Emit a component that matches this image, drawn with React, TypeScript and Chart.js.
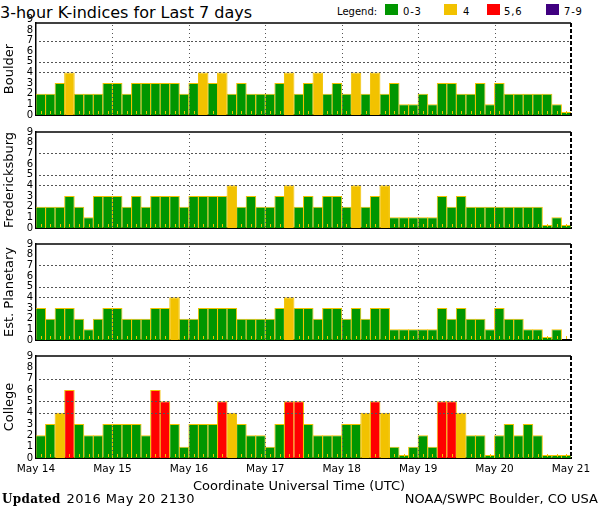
import React, { useEffect, useRef } from "react";
import { Chart, registerables } from "chart.js";

Chart.register(...registerables);

// ---------- data ----------
const dayLabels = ["May 14", "May 15", "May 16", "May 17", "May 18", "May 19", "May 20", "May 21"];
const yTickValues = [0, 1, 2, 3, 4, 5, 6, 7, 8, 9];
const dottedLevels = [4, 5, 7];

const boulder = [
  2, 2, 3, 4, 2, 2, 2, 3,
  3, 2, 3, 3, 3, 3, 3, 2,
  3, 4, 3, 4, 2, 3, 2, 2,
  2, 3, 4, 2, 3, 4, 2, 3,
  2, 4, 2, 4, 2, 3, 1, 1,
  2, 1, 3, 3, 2, 2, 3, 1,
  3, 2, 2, 2, 2, 2, 1, 0,
];
const fredericksburg = [
  2, 2, 2, 3, 2, 1, 3, 3,
  3, 2, 3, 2, 3, 3, 3, 2,
  3, 3, 3, 3, 4, 2, 3, 2,
  2, 3, 4, 2, 3, 2, 3, 3,
  2, 4, 2, 3, 4, 1, 1, 1,
  1, 1, 3, 2, 3, 2, 2, 2,
  2, 2, 2, 2, 2, 0, 1, 0,
];
const estPlanetary: (number | null)[] = [
  3, 2, 3, 3, 2, 1, 2, 3,
  3, 2, 2, 2, 3, 3, 4, 2,
  2, 3, 3, 3, 3, 2, 2, 2,
  2, 3, 4, 3, 3, 2, 3, 3,
  2, 3, 2, 3, 3, 1, 1, 1,
  1, 1, 3, 2, 3, 2, 2, 1,
  3, 2, 2, 1, 1, 0, 1, null,
];
const college = [
  2, 3, 4, 6, 3, 2, 2, 3,
  3, 3, 3, 2, 6, 5, 3, 1,
  3, 3, 3, 5, 4, 3, 2, 2,
  1, 3, 5, 5, 3, 2, 2, 2,
  3, 3, 4, 5, 4, 1, 0, 1,
  2, 1, 5, 5, 4, 2, 2, 0,
  2, 3, 2, 3, 2, 0, 0, 0,
];

const legendLabels = ["0-3", "4", "5,6", "7-9"];

// ---------- styles ----------
const GREEN = "#009600";
const YELLOW = "#F2C200";
const RED = "#FF0000";
const PURPLE = "#400080";
const legendColors = [GREEN, YELLOW, RED, PURPLE];
const GRID = "#555555";
const FONT = "DejaVu Sans";

function colorFor(v: number | null): string {
  if (v === null) return GREEN;
  if (v <= 3) return GREEN;
  if (v === 4) return YELLOW;
  if (v <= 6) return RED;
  return PURPLE;
}

// chart frame: top solid line, right dashed line
const framePlugin = {
  id: "frame",
  afterDraw(chart: any) {
    const { ctx, chartArea } = chart;
    const { left, right, top, bottom } = chartArea;
    ctx.save();
    ctx.strokeStyle = "#000";
    ctx.lineWidth = 1.5;
    ctx.beginPath();
    ctx.moveTo(left, top);
    ctx.lineTo(right, top);
    ctx.stroke();
    ctx.setLineDash([4, 2]);
    ctx.lineWidth = 2;
    ctx.beginPath();
    ctx.moveTo(right, top);
    ctx.lineTo(right, bottom);
    ctx.stroke();
    ctx.restore();
  },
};

// dotted guide lines (day boundaries and levels 4, 5, 7), positioned by the scales
const guidePlugin = {
  id: "guides",
  afterDatasetsDraw(chart: any) {
    const { ctx, chartArea } = chart;
    const xs = chart.scales.x;
    const ys = chart.scales.y;
    const L = Math.round(chartArea.left);
    const R = Math.round(chartArea.right);
    const T = Math.round(chartArea.top);
    const B = Math.round(chartArea.bottom);
    ctx.save();
    ctx.fillStyle = GRID;
    for (let d = 1; d < dayLabels.length - 1; d++) {
      const px = Math.round(xs.getPixelForValue(d * 8));
      for (let y = T + 2; y < B - 1; y += 4) ctx.fillRect(px, y, 1, 1);
    }
    for (let k = 0; k < dottedLevels.length; k++) {
      const py = Math.round(ys.getPixelForValue(dottedLevels[k]));
      for (let x = L + 3; x < R - 2; x += 4) ctx.fillRect(x, py, 2, 1);
    }
    ctx.restore();
  },
};

const barTickPlugin = {
  id: "barTicks",
  afterDatasetsDraw(chart: any) {
    const { ctx, chartArea } = chart;
    const xs = chart.scales.x;
    const n = chart.data.datasets[0].data.length;
    ctx.save();
    ctx.strokeStyle = YELLOW;
    ctx.lineWidth = 1;
    ctx.beginPath();
    for (let i = 0; i < n; i++) {
      const px = Math.round(xs.getPixelForValue(i + 0.5)) + 0.5;
      ctx.moveTo(px, chartArea.bottom - 1);
      ctx.lineTo(px, chartArea.bottom - 4);
    }
    ctx.stroke();
    ctx.restore();
  },
};

type PanelProps = {
  name: string;
  values: (number | null)[];
  plotTop: number;
  plotH: number;
  yMax: number;
  xAxisH: number;
  showX: boolean;
};

function Panel({ name, values, plotTop, plotH, yMax, xAxisH, showX }: PanelProps) {
  const ref = useRef<HTMLCanvasElement>(null);
  const padTop = 10;
  const h = padTop + plotH + xAxisH;

  useEffect(() => {
    if (!ref.current) return;
    const chart = new Chart(ref.current, {
      type: "bar",
      data: {
        datasets: [
          {
            data: values.map((v, i) => ({ x: i + 0.5, y: v })) as any,
            backgroundColor: values.map(colorFor),
            borderColor: YELLOW,
            borderWidth: { top: 1, left: 1, right: 1, bottom: 0 } as any,
            barPercentage: 1.1,
            categoryPercentage: 1,
            minBarLength: 3,
          },
        ],
      },
      options: {
        responsive: false,
        maintainAspectRatio: false,
        animation: false,
        events: [],
        layout: { padding: { top: padTop, right: 29, left: 0, bottom: 0 } },
        plugins: {
          legend: { display: false },
          tooltip: { enabled: false },
          title: { display: false },
        },
        scales: {
          x: {
            type: "linear",
            min: 0,
            max: 56,
            offset: false,
            afterBuildTicks: (axis: any) => {
              axis.ticks = dayLabels.map((_, i) => ({ value: i * 8 }));
            },
            afterFit: (axis: any) => {
              axis.height = xAxisH;
            },
            ticks: {
              display: showX,
              autoSkip: false,
              maxRotation: 0,
              padding: 5,
              color: "#000",
              font: { family: FONT, size: 10.5 },
              callback: (v: any) => dayLabels[Math.round(Number(v) / 8)],
            },
            grid: { display: false, drawTicks: false },
            border: { display: true, color: "#000", width: 2 },
          },
          y: {
            min: 0,
            max: yMax,
            afterBuildTicks: (axis: any) => {
              axis.ticks = yTickValues.map((v) => ({ value: v }));
            },
            afterFit: (axis: any) => {
              axis.width = 36;
            },
            ticks: {
              autoSkip: false,
              padding: 3,
              color: "#000",
              font: { family: FONT, size: 10 },
            },
            grid: { display: false, drawTicks: false },
            border: { display: true, color: "#000", width: 1.5 },
            title: {
              display: true,
              text: name,
              color: "#000",
              font: { family: FONT, size: 13 },
              padding: { top: 2, bottom: 0 },
            },
          },
        },
      } as any,
      plugins: [guidePlugin, framePlugin, barTickPlugin],
    });
    return () => chart.destroy();
  }, []);

  return (
    <canvas
      ref={ref}
      width={600}
      height={h}
      style={{ position: "absolute", left: 0, top: plotTop - padTop, width: 600, height: h }}
    />
  );
}

const textBase: React.CSSProperties = {
  position: "absolute",
  whiteSpace: "nowrap",
  color: "#000",
  fontFamily: FONT,
};

export default function App() {
  const legendTextX = [403, 463, 504, 564];
  const legendSwatchX = [385, 444, 486.5, 546];
  return (
    <div
      style={{
        position: "absolute",
        left: 0,
        top: 0,
        width: 600,
        height: 510,
        background: "#fff",
        overflow: "hidden",
      }}
    >
      <div style={{ ...textBase, left: 0, top: 4.5, fontSize: 16, lineHeight: "16px" }}>
        3-hour K-indices for Last 7 days
      </div>
      <div style={{ ...textBase, left: 337, top: 6.5, fontSize: 10, lineHeight: "10px" }}>Legend:</div>
      {legendLabels.map((lab, i) => (
        <React.Fragment key={lab}>
          <div
            style={{
              position: "absolute",
              left: legendSwatchX[i],
              top: 4,
              width: 13,
              height: 11,
              background: legendColors[i],
            }}
          />
          <div
            style={{
              ...textBase,
              left: legendTextX[i],
              top: 6.5,
              fontSize: 10,
              lineHeight: "10px",
              letterSpacing: "0.8px",
            }}
          >
            {lab}
          </div>
        </React.Fragment>
      ))}

      <Panel name="Boulder" values={boulder} plotTop={23} plotH={98} yMax={8.65} xAxisH={3} showX={false} />
      <Panel name="Fredericksburg" values={fredericksburg} plotTop={132} plotH={102} yMax={9} xAxisH={3} showX={false} />
      <Panel name="Est. Planetary" values={estPlanetary} plotTop={244} plotH={102} yMax={9} xAxisH={3} showX={false} />
      <Panel name="College" values={college} plotTop={356} plotH={102} yMax={9} xAxisH={20} showX={true} />

      <div style={{ ...textBase, left: 193, top: 479, fontSize: 13, lineHeight: "13px" }}>
        Coordinate Universal Time (UTC)
      </div>
      <div
        style={{
          ...textBase,
          left: 2,
          top: 493.2,
          fontSize: 12,
          lineHeight: "12px",
          fontFamily: "DejaVu Serif",
          fontWeight: "bold",
          letterSpacing: "0.3px",
        }}
      >
        Updated
      </div>
      <div style={{ ...textBase, left: 66.5, top: 492.3, fontSize: 13, lineHeight: "13px", letterSpacing: "0.4px" }}>
        2016 May 20 2130
      </div>
      <div style={{ ...textBase, right: 2, top: 492.3, fontSize: 13, lineHeight: "13px" }}>
        NOAA/SWPC Boulder, CO USA
      </div>
    </div>
  );
}
